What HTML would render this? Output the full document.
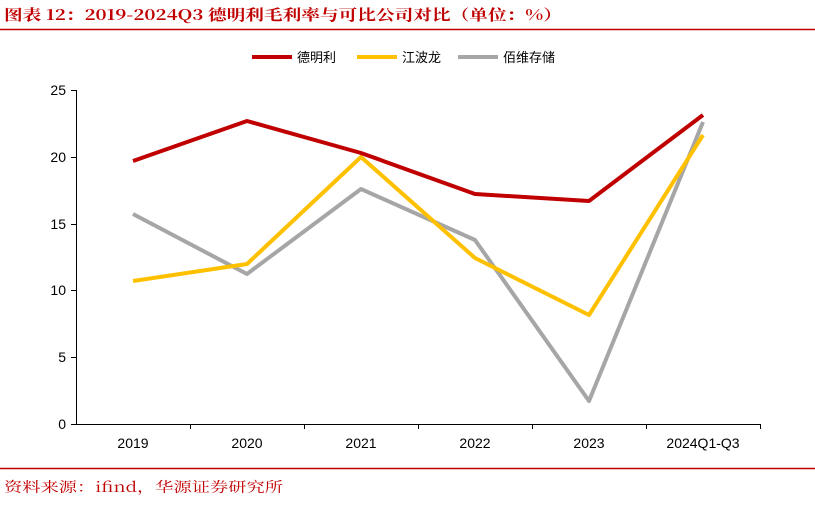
<!DOCTYPE html>
<html><head><meta charset="utf-8"><style>
body{margin:0;background:#fff;width:815px;height:502px;overflow:hidden;font-family:"Liberation Sans","Noto Sans CJK SC",sans-serif}
</style></head><body>
<svg width="815" height="502" xmlns="http://www.w3.org/2000/svg" font-family="Liberation Sans, Noto Sans CJK SC, sans-serif">
<text x="4" y="20" font-size="15" font-weight="bold" fill="#c00000" font-family="Noto Serif CJK SC, serif" textLength="558" lengthAdjust="spacingAndGlyphs">图表 12：2019-2024Q3 德明利毛利率与可比公司对比（单位：%）</text>
<line x1="0" y1="29.5" x2="815" y2="29.5" stroke="#c00000" stroke-width="1.5"/>
<g font-size="13" fill="#000">
<line x1="252" y1="57" x2="292" y2="57" stroke="#c00000" stroke-width="4"/><text x="297" y="62">德明利</text>
<line x1="357" y1="57" x2="397" y2="57" stroke="#ffc000" stroke-width="4"/><text x="402" y="62">江波龙</text>
<line x1="458" y1="57" x2="498" y2="57" stroke="#a6a6a6" stroke-width="4"/><text x="503" y="62">佰维存储</text>
</g>
<g stroke="#000" stroke-width="1">
<line x1="76.5" y1="90" x2="76.5" y2="424"/>
<line x1="76" y1="424.5" x2="760" y2="424.5"/>
<line x1="71" y1="90.5" x2="76" y2="90.5"/><line x1="71" y1="157.5" x2="76" y2="157.5"/><line x1="71" y1="224.5" x2="76" y2="224.5"/><line x1="71" y1="290.5" x2="76" y2="290.5"/><line x1="71" y1="357.5" x2="76" y2="357.5"/><line x1="71" y1="424.5" x2="76" y2="424.5"/>
<line x1="190.5" y1="424" x2="190.5" y2="429"/><line x1="304.5" y1="424" x2="304.5" y2="429"/><line x1="418.5" y1="424" x2="418.5" y2="429"/><line x1="532.5" y1="424" x2="532.5" y2="429"/><line x1="646.5" y1="424" x2="646.5" y2="429"/><line x1="760.5" y1="424" x2="760.5" y2="429"/>
</g>
<g font-size="14" text-anchor="end" fill="#000">
<text x="66" y="95">25</text><text x="66" y="162">20</text><text x="66" y="229">15</text><text x="66" y="295">10</text><text x="66" y="362">5</text><text x="66" y="429">0</text>
</g>
<g font-size="14" text-anchor="middle" fill="#000">
<text x="133" y="448">2019</text><text x="247" y="448">2020</text><text x="361" y="448">2021</text><text x="475" y="448">2022</text><text x="589" y="448">2023</text><text x="703" y="448">2024Q1-Q3</text>
</g>
<g fill="none" stroke-width="4" stroke-linejoin="round">
<polyline stroke="#a6a6a6" points="133,214 247,274 361,189 475,240 589,401 703,122"/>
<polyline stroke="#ffc000" points="133,281 247,264 361,157 475,258 589,315 703,135"/>
<polyline stroke="#c00000" points="133,161 247,121 361,153 475,194 589,201 703,115"/>
</g>
<line x1="0" y1="468.5" x2="815" y2="468.5" stroke="#c00000" stroke-width="1.5"/>
<text x="4" y="492" font-size="14" fill="#c00000" font-family="Noto Serif CJK SC, serif" textLength="279" lengthAdjust="spacingAndGlyphs">资料来源：ifind，华源证券研究所</text>
</svg>
</body></html>
